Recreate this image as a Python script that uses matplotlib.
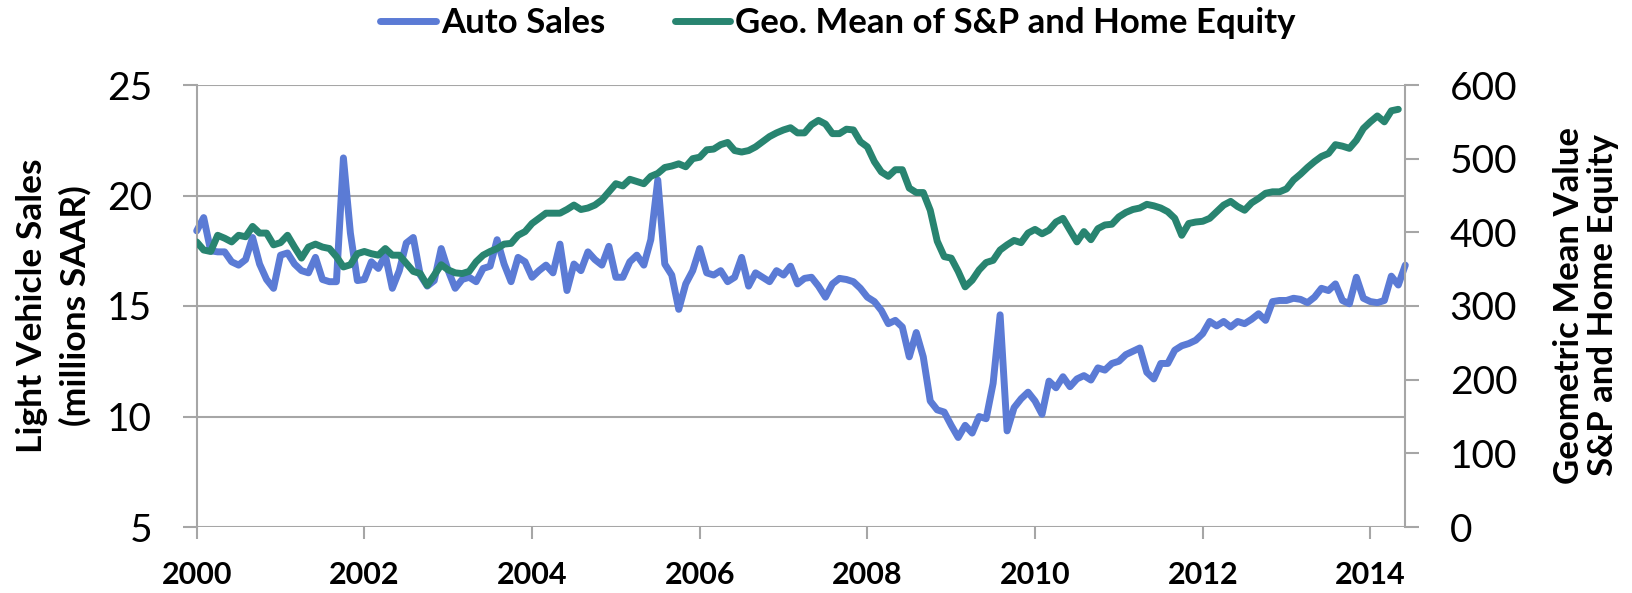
import numpy as np
import matplotlib
matplotlib.use("Agg")
import matplotlib.pyplot as plt

plt.rcParams['font.family'] = ['Lato', 'DejaVu Sans']

# ==============================
# Data (monthly, Jan 2000 onward)
# ==============================
auto_sales = [
    18.4, 19.0, 17.5, 17.45, 17.45, 17.0, 16.85, 17.1, 18.1, 16.9, 16.2, 15.8,     # 2000
    17.3, 17.4, 16.9, 16.6, 16.5, 17.2, 16.2, 16.1, 16.1, 21.7, 18.3, 16.15,       # 2001
    16.2, 17.0, 16.7, 17.3, 15.8, 16.6, 17.85, 18.1, 16.4, 15.9, 16.15, 17.6,      # 2002
    16.6, 15.8, 16.2, 16.3, 16.1, 16.7, 16.8, 18.0, 16.9, 16.1, 17.2, 17.0,        # 2003
    16.3, 16.6, 16.85, 16.5, 17.8, 15.7, 16.9, 16.6, 17.45, 17.1, 16.85, 17.7,     # 2004
    16.3, 16.3, 17.0, 17.3, 16.85, 18.0, 20.7, 16.9, 16.4, 14.85, 16.0, 16.6,      # 2005
    17.6, 16.5, 16.4, 16.6, 16.1, 16.3, 17.2, 15.9, 16.5, 16.3, 16.1, 16.6,        # 2006
    16.4, 16.8, 16.0, 16.25, 16.3, 15.9, 15.4, 16.0, 16.25, 16.2, 16.1, 15.8,      # 2007
    15.4, 15.2, 14.8, 14.2, 14.35, 14.05, 12.7, 13.8, 12.7, 10.7, 10.3, 10.2,      # 2008
    9.6, 9.05, 9.6, 9.25, 10.0, 9.9, 11.5, 14.6, 9.35, 10.4, 10.8, 11.1,           # 2009
    10.7, 10.1, 11.6, 11.3, 11.8, 11.35, 11.7, 11.85, 11.65, 12.2, 12.1, 12.4,     # 2010
    12.5, 12.8, 12.95, 13.1, 12.0, 11.7, 12.4, 12.4, 13.0, 13.2, 13.3, 13.45,      # 2011
    13.75, 14.3, 14.1, 14.3, 14.05, 14.3, 14.2, 14.4, 14.65, 14.35, 15.2, 15.25,   # 2012
    15.25, 15.35, 15.3, 15.15, 15.4, 15.8, 15.7, 16.0, 15.25, 15.1, 16.3, 15.35,   # 2013
    15.2, 15.15, 15.25, 16.35, 15.95, 16.85,                                       # 2014
]

geo_mean = [
    387, 376, 374, 396, 392, 387, 396, 394, 408, 399, 399, 383,   # 2000
    386, 396, 380, 365, 380, 384, 380, 378, 367, 353, 356, 371,   # 2001
    374, 371, 369, 378, 369, 369, 358, 347, 344, 328, 342, 356,   # 2002
    349, 345, 344, 347, 360, 369, 374, 378, 384, 385, 396, 401,   # 2003
    412, 419, 426, 426, 426, 431, 437, 431, 433, 437, 444, 455,   # 2004
    466, 463, 472, 469, 466, 476, 480, 488, 490, 493, 489, 500,   # 2005
    502, 512, 513, 519, 522, 511, 509, 511, 516, 523, 530, 535,   # 2006
    539, 542, 535, 535, 546, 552, 547, 534, 534, 540, 539, 523,   # 2007
    516, 496, 482, 476, 485, 485, 460, 454, 454, 430, 388, 367,   # 2008
    365, 347, 326, 335, 349, 359, 362, 376, 383, 389, 386, 399,   # 2009
    404, 398, 403, 414, 419, 403, 387, 401, 390, 405, 410, 411,   # 2010
    421, 427, 431, 433, 438, 436, 433, 428, 419, 396, 412, 414,   # 2011
    415, 419, 428, 437, 442, 435, 430, 440, 446, 453, 455, 455,   # 2012
    459, 471, 479, 488, 496, 503, 507, 519, 517, 514, 525, 541,   # 2013
    550, 558, 550, 565, 567,                                      # 2014
]

year_ticks = [2000, 2002, 2004, 2006, 2008, 2010, 2012, 2014]
left_ticks = [5, 10, 15, 20, 25]
right_ticks = [0, 100, 200, 300, 400, 500, 600]

t_auto = 2000 + np.arange(len(auto_sales)) / 12
t_geo = 2000 + np.arange(len(geo_mean)) / 12

BLUE = "#5b7bd5"
GREEN = "#288470"
GRID = "#a6a6a6"

# ==============================
# Figure
# ==============================
W, H = 1633, 593
fig = plt.figure(figsize=(W / 100, H / 100), dpi=100)
ax = fig.add_axes([196.7 / W, 1 - 527 / H, (1405.3 - 196.7) / W, (527 - 85) / H])
ax2 = ax.twinx()

l1, = ax.plot(t_auto, auto_sales, color=BLUE, lw=5,
              solid_joinstyle='round', solid_capstyle='round', label="Auto Sales")
l2, = ax2.plot(t_geo, geo_mean, color=GREEN, lw=5,
               solid_joinstyle='round', solid_capstyle='round',
               label="Geo. Mean of S&P and Home Equity")
l1.set_clip_on(False)

ax.set_xlim(2000, 2000 + 173 / 12)
ax.set_ylim(5, 25)
ax2.set_ylim(0, 600)

ax.set_yticks(left_ticks)
ax2.set_yticks(right_ticks)
ax.set_xticks(year_ticks)
ax.set_xticklabels([str(y) for y in year_ticks], fontweight='bold', fontsize=22)

ax.grid(axis='y', color=GRID, lw=1.5)
ax.set_axisbelow(True)

for a in (ax, ax2):
    for s in a.spines.values():
        s.set_visible(False)
ax.spines['left'].set_visible(True)
ax.spines['left'].set_color(GRID)
ax.spines['left'].set_linewidth(1.5)
ax2.spines['right'].set_visible(True)
ax2.spines['right'].set_color(GRID)
ax2.spines['right'].set_linewidth(1.5)

ax.tick_params(axis='y', direction='out', length=10, width=1.5, color=GRID,
               labelsize=28, pad=22)
ax.tick_params(axis='x', direction='out', length=8.5, width=1.5, color=GRID,
               pad=16)
ax2.tick_params(axis='y', direction='out', length=10, width=1.5, color=GRID,
                labelsize=28, pad=22)

fig.text(53.5 / W, 1 - 306 / H, "Light Vehicle Sales\n(millions SAAR)",
         rotation=90, ha='center', va='center', fontweight='bold',
         fontsize=25.5, linespacing=1.4)
fig.text(1586 / W, 1 - 305 / H, "Geometric Mean Value\nS&P and Home Equity",
         rotation=90, ha='center', va='center', fontweight='bold',
         fontsize=25, linespacing=1.05)

fig.legend(handles=[l1, l2], loc='center', bbox_to_anchor=(838 / W, 1 - 23 / H),
           ncol=2, frameon=False, prop={'weight': 'bold', 'size': 25},
           handlelength=1.6, handletextpad=0.15, columnspacing=2.0)

fig.savefig("out.png", dpi=100)
